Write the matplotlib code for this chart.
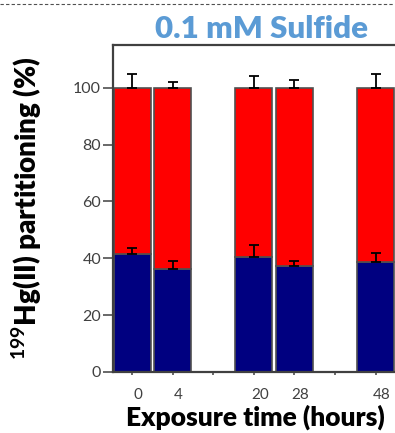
import matplotlib.pyplot as plt
import matplotlib.transforms as mtransforms
from matplotlib.lines import Line2D
import numpy as np

plt.rcParams['font.family'] = ['Lato', 'DejaVu Sans']
plt.rcParams['mathtext.fontset'] = 'custom'
plt.rcParams['mathtext.bf'] = 'Lato:bold'
plt.rcParams['mathtext.rm'] = 'Lato:bold'
plt.rcParams['mathtext.default'] = 'bf'

# data
hours = ['0', '4', '20', '28', '48']
slots = [0, 1, 3, 4, 6]          # bar positions (gaps at 2 and 5)
bottom_part = [41.5, 36.2, 40.4, 37.2, 38.7]
bottom_err = [2.2, 3.0, 4.1, 2.0, 3.3]
top_total = [100, 100, 100, 100, 100]
top_err = [4.8, 1.9, 4.2, 2.8, 4.8]

red = '#FF0000'
navy = '#000080'
edge = '#505050'

fig = plt.figure(figsize=(3.95, 4.33), dpi=100)
ax = fig.add_axes([0.286, 0.141, 0.716, 0.755])

x = np.array(slots)
top_part = np.array(top_total) - np.array(bottom_part)
w = 0.91

ax.bar(x, bottom_part, width=w, color=navy, edgecolor=edge, linewidth=1.2, zorder=2)
ax.bar(x, top_part, width=w, bottom=bottom_part, color=red, edgecolor=edge, linewidth=1.2, zorder=2)

# one-sided (upward) error bars
zeros = np.zeros(len(x))
ax.errorbar(x, bottom_part, yerr=[zeros, bottom_err], fmt='none', ecolor='black',
            elinewidth=1.3, capsize=3.4, capthick=1.3, zorder=3)
ax.errorbar(x, top_total, yerr=[zeros, top_err], fmt='none', ecolor='black',
            elinewidth=1.3, capsize=3.4, capthick=1.3, zorder=3)

ax.set_xlim(-0.47, 6.5)
ax.set_ylim(0, 115)

ax.set_xticks(range(7))
labels = ['', '', '', '', '', '', '']
for s, h in zip(slots, hours):
    labels[s] = h
ax.set_xticklabels(labels)
ax.set_yticks([0, 20, 40, 60, 80, 100])

ax.tick_params(axis='y', direction='out', length=7, width=1.1, color='#404040',
               labelsize=11.5, labelcolor='#404040', pad=1.5)
ax.tick_params(axis='x', direction='out', length=2.5, width=1.1, color='#404040',
               labelsize=11, labelcolor='#404040', pad=9)

# nudge x tick labels a little to the right like the original
off = mtransforms.ScaledTranslation(6 / 100, 0, fig.dpi_scale_trans)
for lbl in ax.get_xticklabels():
    lbl.set_transform(lbl.get_transform() + off)

for s in ['left', 'bottom', 'top']:
    ax.spines[s].set_color('#404040')
    ax.spines[s].set_linewidth(1.6)
ax.spines['right'].set_visible(False)

ax.set_xlabel('Exposure time (hours)', fontsize=19, fontweight='heavy')
ax.xaxis.set_label_coords(0.505, -0.099)
ax.set_ylabel(r'$^{199}$Hg(II) partitioning (%)', fontsize=20, fontweight='heavy')
ax.yaxis.set_label_coords(-0.245, 0.5)

fig.text(0.663, 0.933, '0.1 mM Sulfide', fontsize=22.5, fontweight='heavy',
         color='#5B9BD5', ha='center', va='center')

# dashed border line along the top
fig.add_artist(Line2D([0, 0.995], [0.991, 0.991], transform=fig.transFigure,
                      color='#505050', linewidth=0.8, linestyle=(0, (3, 2))))

fig.savefig('out.png', dpi=100)
